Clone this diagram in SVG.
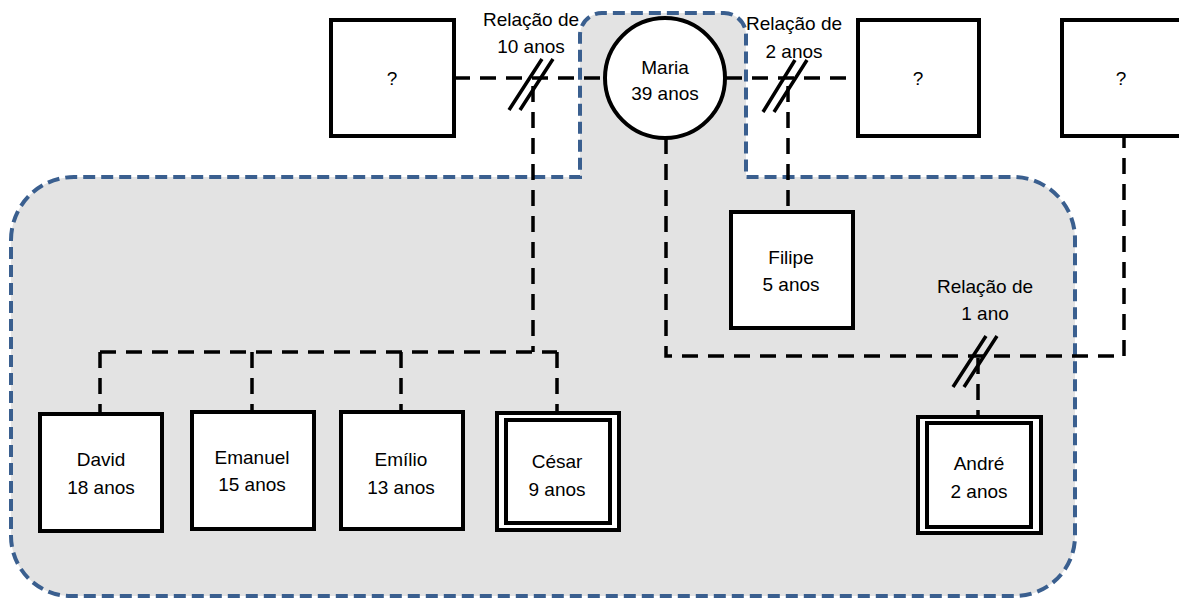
<svg xmlns="http://www.w3.org/2000/svg" width="1179" height="601" viewBox="0 0 1179 601">
<style>
.region{fill:#e3e3e3;stroke:#3a5f8f;stroke-width:4;stroke-dasharray:12 6}
.box{fill:#fff;stroke:#000;stroke-width:4}
.inner{fill:none;stroke:#000;stroke-width:4}
.conn{fill:none;stroke:#000;stroke-width:3.5;stroke-dasharray:16 10}
.solid{fill:none;stroke:#000;stroke-width:3.5}
.lbl{font-family:"Liberation Sans",Arial,sans-serif;font-size:19px;fill:#000;text-anchor:middle}
</style>
<rect width="1179" height="601" fill="#fff"/>
<path id="region" class="region" d="M11,240 A63,63 0 0 1 74,177 L580,177 L580,35 A22,22 0 0 1 602,13 L724,13 A22,22 0 0 1 746,35 L746,177 L1013,177 A62,62 0 0 1 1075,239 L1075,536 A60,60 0 0 1 1015,596 L71,596 A60,60 0 0 1 11,536 Z"/>
<g id="connectors">
  <path class="conn" d="M454,78 L604,78"/>
  <path class="conn" d="M726,78 L858,78"/>
  <path class="conn" d="M533,86 L533,352"/>
  <path class="conn" d="M100,352 L557,352"/>
  <path class="conn" d="M100,352 L100,414"/>
  <path class="conn" d="M252,352 L252,412"/>
  <path class="conn" d="M401,352 L401,412"/>
  <path class="conn" d="M557,352 L557,413"/>
  <path class="conn" d="M788,86 L788,212"/>
  <path class="conn" d="M666,138 L666,356 L1124,356 L1124,136"/>
  <path class="conn" d="M978,358 L978,417"/>
  <path class="solid" d="M509,110 L542,59 M520,110 L553,59"/>
  <path class="solid" d="M763,112 L795,60 M774,112 L807,60"/>
  <path class="solid" d="M953,387 L986,336 M964,387 L997,336"/>
</g>
<g id="unknown1"><rect class="box" x="331" y="20" width="123" height="116"/><text class="lbl" x="392" y="85">?</text></g>
<g id="maria"><circle class="box" cx="665" cy="78" r="60"/><text class="lbl" x="665" y="74">Maria</text><text class="lbl" x="665" y="100">39 anos</text></g>
<g id="unknown2"><rect class="box" x="858" y="20" width="121" height="116"/><text class="lbl" x="918" y="85">?</text></g>
<g id="unknown3"><rect class="box" x="1062" y="20" width="121" height="116"/><text class="lbl" x="1121" y="85">?</text></g>
<g id="label10"><text class="lbl" x="531" y="26">Relação de</text><text class="lbl" x="531" y="53">10 anos</text></g>
<g id="label2"><text class="lbl" x="794" y="30">Relação de</text><text class="lbl" x="794" y="58">2 anos</text></g>
<g id="label1"><text class="lbl" x="985" y="293">Relação de</text><text class="lbl" x="985" y="320">1 ano</text></g>
<g id="filipe"><rect class="box" x="731" y="212" width="122" height="116"/><text class="lbl" x="791" y="264">Filipe</text><text class="lbl" x="791" y="291">5 anos</text></g>
<g id="david"><rect class="box" x="40" y="414" width="122" height="117"/><text class="lbl" x="101" y="466">David</text><text class="lbl" x="101" y="494">18 anos</text></g>
<g id="emanuel"><rect class="box" x="192" y="412" width="122" height="117"/><text class="lbl" x="252" y="464">Emanuel</text><text class="lbl" x="252" y="491">15 anos</text></g>
<g id="emilio"><rect class="box" x="341" y="412" width="122" height="117"/><text class="lbl" x="401" y="466">Emílio</text><text class="lbl" x="401" y="494">13 anos</text></g>
<g id="cesar"><rect class="box" x="497" y="413" width="122" height="117"/><rect class="inner" x="506" y="420" width="104" height="103"/><text class="lbl" x="557" y="468">César</text><text class="lbl" x="557" y="496">9 anos</text></g>
<g id="andre"><rect class="box" x="918" y="417" width="123" height="116"/><rect class="inner" x="927" y="423" width="104" height="104"/><text class="lbl" x="979" y="470">André</text><text class="lbl" x="979" y="498">2 anos</text></g>
</svg>
